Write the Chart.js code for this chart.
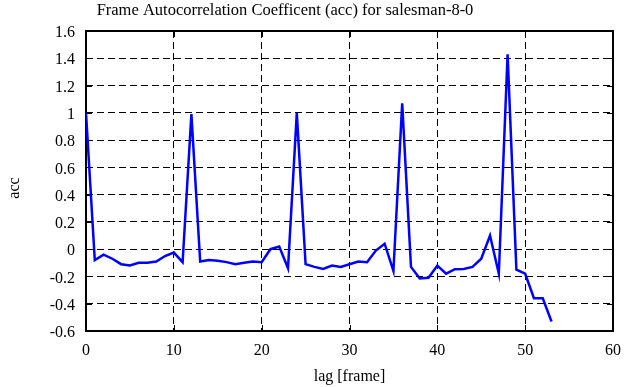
<!DOCTYPE html>
<html>
<head>
<meta charset="utf-8">
<script src="https://cdn.jsdelivr.net/npm/chart.js@4/dist/chart.umd.min.js"></script>
<style>
  html, body { margin: 0; padding: 0; background: #fff; }
  #wrap { width: 635px; height: 387px; }
</style>
</head>
<body>
<div id="wrap"><canvas id="acc-chart" width="635" height="387"></canvas></div>
<script>
// Data
const chartTitle = "Frame Autocorrelation Coefficent (acc) for salesman-8-0";
const xLabel = "lag [frame]";
const yLabel = "acc";

const acc = [
  1.0, -0.08, -0.04, -0.07, -0.11, -0.12, -0.10, -0.10, -0.09, -0.05,
  -0.025, -0.095, 0.99, -0.09, -0.08, -0.085, -0.095, -0.11, -0.10, -0.09,
  -0.095, 0.0, 0.02, -0.14, 1.0, -0.11, -0.13, -0.145, -0.12, -0.13,
  -0.11, -0.09, -0.095, -0.01, 0.04, -0.16, 1.07, -0.13, -0.215, -0.21,
  -0.12, -0.18, -0.147, -0.145, -0.13, -0.07, 0.10, -0.18, 1.43, -0.15,
  -0.18, -0.36, -0.36, -0.53
];

const xTicks = [0, 10, 20, 30, 40, 50, 60];
const yTicks = [-0.6, -0.4, -0.2, 0, 0.2, 0.4, 0.6, 0.8, 1, 1.2, 1.4, 1.6];
const yTickLabels = ["-0.6", "-0.4", "-0.2", "0", "0.2", "0.4", "0.6", "0.8", "1", "1.2", "1.4", "1.6"];

const serif = "'Liberation Serif', 'DejaVu Serif', serif";

// hide grid lines that sit on the frame
const innerGrid = (ticks) => (c) =>
  (c.index === 0 || c.index === ticks.length - 1) ? "rgba(0,0,0,0)" : "#000";

// frame, inward tick marks, title and y label
const framePlugin = {
  id: "frame",
  beforeDatasetsDraw(chart) {
    const { ctx, chartArea: a, scales } = chart;
    ctx.save();
    ctx.strokeStyle = "#000";
    ctx.lineWidth = 1;
    ctx.setLineDash([]);
    ctx.beginPath();
    xTicks.forEach((t) => {
      const px = Math.round(scales.x.getPixelForValue(t)) + 0.5;
      ctx.moveTo(px, a.bottom); ctx.lineTo(px, a.bottom - 6);
      ctx.moveTo(px, a.top); ctx.lineTo(px, a.top + 6);
    });
    yTicks.forEach((t) => {
      const py = Math.round(scales.y.getPixelForValue(t)) + 0.5;
      ctx.moveTo(a.left, py); ctx.lineTo(a.left + 6, py);
      ctx.moveTo(a.right, py); ctx.lineTo(a.right - 6, py);
    });
    ctx.stroke();
    ctx.lineWidth = 2;
    ctx.strokeRect(a.left, a.top, a.right - a.left, a.bottom - a.top);
    ctx.restore();
  },
  afterDraw(chart) {
    const { ctx } = chart;
    ctx.save();
    ctx.fillStyle = "#000";
    ctx.font = "16.5px " + serif;
    ctx.textAlign = "center";
    ctx.textBaseline = "alphabetic";
    ctx.fillText(chartTitle, 285, 15);
    ctx.font = "16px " + serif;
    ctx.translate(15, 188);
    ctx.rotate(-Math.PI / 2);
    ctx.textBaseline = "middle";
    ctx.fillText(yLabel, 0, 0);
    ctx.restore();
  }
};

new Chart(document.getElementById("acc-chart"), {
  type: "line",
  data: {
    datasets: [{
      data: acc.map((v, i) => ({ x: i, y: v })),
      borderColor: "#0000ff",
      borderWidth: 2.5,
      pointRadius: 0,
      tension: 0,
      fill: false
    }]
  },
  options: {
    responsive: false,
    animation: false,
    layout: { padding: { top: 31, right: 22, bottom: 0, left: 0 } },
    plugins: {
      legend: { display: false },
      tooltip: { enabled: false },
      title: { display: false }
    },
    scales: {
      x: {
        type: "linear",
        min: 0,
        max: 60,
        afterBuildTicks: (s) => { s.ticks = xTicks.map((v) => ({ value: v })); },
        afterFit: (s) => { s.height = 56; },
        grid: { color: innerGrid(xTicks), lineWidth: 1, drawTicks: false },
        border: { display: false, dash: [7, 4] },
        ticks: {
          color: "#000",
          padding: 10,
          maxRotation: 0,
          font: { family: serif, size: 16 },
          callback: (v) => String(v)
        },
        title: {
          display: true,
          text: xLabel,
          color: "#000",
          font: { family: serif, size: 16 },
          padding: { top: 0, bottom: 1 }
        }
      },
      y: {
        min: -0.6,
        max: 1.6,
        afterBuildTicks: (s) => { s.ticks = yTicks.map((v) => ({ value: v })); },
        afterFit: (s) => { s.width = 86; },
        grid: { color: innerGrid(yTicks), lineWidth: 1, drawTicks: false },
        border: { display: false, dash: [7, 4] },
        ticks: {
          color: "#000",
          padding: 11,
          labelOffset: 2,
          font: { family: serif, size: 16 },
          callback: (v, i) => yTickLabels[i]
        }
      }
    }
  },
  plugins: [framePlugin]
});
</script>
</body>
</html>
